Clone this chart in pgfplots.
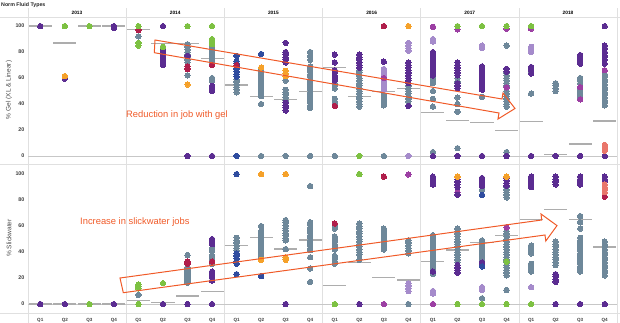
\documentclass[border=0pt]{standalone}
\usepackage{pgfplots}
\pgfplotsset{compat=1.18}
\usepackage{fontspec}
\setmainfont{Liberation Sans}
\definecolor{cP}{HTML}{5B2C91}
\definecolor{cG}{HTML}{7DC142}
\definecolor{cO}{HTML}{F5A12A}
\definecolor{cS}{HTML}{6E889A}
\definecolor{cB}{HTML}{2F4C9F}
\definecolor{cC}{HTML}{B01E4B}
\definecolor{cL}{HTML}{A58BCB}
\definecolor{cM}{HTML}{9C3FA3}
\definecolor{cSa}{HTML}{E9766B}
\definecolor{cAn}{HTML}{F05A28}
\pgfplotsset{
  panel/.style={scale only axis, width=589bp, xmin=-0.5, xmax=23.5, ymax=107,
    axis line style={draw=none}, major tick length=0pt, ytick={0,20,40,60,80,100},
    yticklabel style={font=\fontsize{5.4}{6}\selectfont\bfseries, text=black!75},
    /pgf/number format/assume math mode=true, anchor=south west},
  dot/.style={only marks, color=#1, mark=*, mark size=2.7bp, mark options={solid, draw=#1, fill=#1, line width=0pt}},
  med/.style={draw=none, mark=none, error bars/.cd, x dir=both, x fixed=0.47, error mark=none,
    error bar style={draw=black!32, line width=1.3bp}},
  zl/.style={black!22, line width=0.9bp, mark=none}
}
\begin{document}
\begin{tikzpicture}
\path[use as bounding box] (0,0) rectangle (620bp,-323bp);
\foreach \k in {0,...,6} {\draw[black!12, line width=0.8bp] (28bp+98.2bp*\k,-8bp) -- (28bp+98.2bp*\k,-323bp);}
\draw[black!12, line width=0.8bp] (0,-17bp) -- (620bp,-17bp);
\draw[black!12, line width=0.8bp] (0,-164.5bp) -- (620bp,-164.5bp);
\draw[black!12, line width=0.8bp] (0,-313bp) -- (620bp,-313bp);
\node[anchor=west, font=\fontsize{5.3}{6}\selectfont\bfseries, text=black!85, inner sep=0] at (1bp,-5.5bp) {Norm Fluid Types};
\foreach \y [count=\k from 0] in {2013,2014,2015,2016,2017,2018} {
  \node[font=\fontsize{4.8}{5}\selectfont\bfseries, inner sep=0] at (77bp+98.2bp*\k,-13bp) {\y};}
\node[rotate=90, font=\fontsize{6.6}{7}\selectfont, text=black!70, inner sep=0] at (9bp,-90bp) {\% Gel (XL \& Linear)};
\node[rotate=90, font=\fontsize{6.6}{7}\selectfont, text=black!70, inner sep=0] at (9bp,-238bp) {\% Slickwater};

% ---------------- top panel ----------------
\begin{axis}[panel, at={(28bp,-164bp)}, height=147bp, ymin=-6.2, xtick=\empty]
\addplot[zl] coordinates {(-0.5,0) (23.5,0)};
\addplot[med] coordinates {(0,100) (1,87) (2,100) (3,100) (4,97.5) (5,86.7) (6,86.7) (7,75) (8,54.6) (9,45.6) (10,43.6) (11,49.5) (12,68) (13,45.6) (14,49.5) (15,52) (16,33.3) (17,27.2) (18,25.6) (19,19.5) (20,26.4) (21,1.3) (22,9.2) (23,26.9)};
% slate
\addplot[dot=cS] coordinates {(4,92) (5,80) (5,77)
(6,86) (6,84) (6,82) (6,80) (6,78) (6,76) (6,74) (6,72) (6,62)
(7,84) (7,82) (7,80) (7,78) (7,76) (7,74) (7,72) (7,60) (7,58)
(8,59) (8,57) (8,55) (8,53) (8,51) (8,49)
(9,66) (9,64) (9,62) (9,60) (9,58) (9,56) (9,54) (9,52) (9,50) (9,48) (9,46) (9,40) (9,0)
(10,58) (10,51) (10,49) (10,47) (10,45) (10,43) (10,0)
(11,80) (11,77) (11,74) (11,69) (11,67) (11,65) (11,63) (11,61) (11,59) (11,57) (11,55) (11,53) (11,51) (11,49) (11,47) (11,45) (11,43) (11,41) (11,39) (11,37) (11,0)
(12,56) (12,54) (12,52) (12,44) (12,42) (12,40) (12,0)
(13,66) (13,64) (13,62) (13,60) (13,58) (13,56) (13,54) (13,52) (13,50) (13,48) (13,46) (13,44) (13,42) (13,40) (13,38)
(14,47) (14,45) (14,43) (14,41) (14,39) (14,0)
(15,54) (15,52) (15,50) (15,48) (15,46) (15,44) (15,42)
(16,60) (16,58) (16,56) (16,50) (16,44) (16,38) (16,3)
(17,60) (17,57) (17,45) (17,40) (17,34) (17,6)
(18,45.6)
(19,85) (19,64) (19,62) (19,60) (19,58) (19,56) (19,54) (19,50) (19,48) (19,46) (19,44) (19,42) (19,40) (19,38) (19,3)
(20,65.6) (20,48)
(21,56) (21,54) (21,52) (21,50)
(22,60) (22,58) (22,56) (22,52) (22,50) (22,48) (22,46) (22,44)
(23,63) (23,61) (23,59) (23,57) (23,55) (23,53) (23,51) (23,49) (23,47) (23,45) (23,43) (23,41) (23,39)};
% light purple
\addplot[dot=cL] coordinates {(14,67) (14,65) (14,63) (14,61) (14,59) (14,57) (14,55) (14,53) (14,51)
(15,87) (15,85) (15,83) (15,81) (15,0) (16,90) (16,88) (18,85) (18,83) (20,84) (20,82) (20,80)};
% magenta
\addplot[dot=cM] coordinates {(14,60) (16,99.5) (17,97.5) (19,98) (19,52.8) (20,98) (22,53) (22,43.6) (23,66)};
% purple
\addplot[dot=cP] coordinates {(0,100) (1,59.5) (3,100) (3,98.5)
(5,100) (5,84) (5,82) (5,79) (5,76) (5,74) (5,72) (5,70) (6,77) (6,0) (7,54) (7,52) (7,50) (7,0)
(10,87) (10,80) (10,78) (10,76) (10,74) (10,72) (10,41) (10,39) (10,37) (10,35)
(12,78) (12,72) (12,66) (12,64) (12,62) (12,60) (12,58)
(13,78) (13,76) (13,74) (13,72) (13,70) (13,68)
(14,72.6)
(15,72) (15,70) (15,68) (15,66) (15,64) (15,62) (15,60) (15,58) (15,56) (15,38.5)
(16,80) (16,78) (16,76) (16,74) (16,72) (16,70) (16,68) (16,66) (16,64) (16,62) (16,0)
(17,72) (17,70) (17,68) (17,66) (17,64) (17,62) (17,56) (17,54) (17,52) (17,0)
(18,69) (18,67) (18,65) (18,63) (18,61) (18,59) (18,57) (18,55) (18,53) (18,51) (18,0)
(19,67) (19,65) (19,0) (20,68.5) (20,66) (20,63.5) (20,0) (21,0)
(22,77.7) (22,75.5) (22,73) (22,71) (22,0)
(23,100) (23,85) (23,83) (23,80) (23,77) (23,74) (23,71) (23,0)};
% blue
\addplot[dot=cB] coordinates {(8,77) (8,73) (8,71) (8,69) (8,67) (8,65) (8,63) (8,61) (8,0) (9,78.5)};
% crimson
\addplot[dot=cC] coordinates {(4,97) (6,69) (6,67) (7,70) (8,70) (12,38.5) (14,100)};
% orange
\addplot[dot=cO] coordinates {(1,61.5) (6,55) (9,68) (10,65.5) (10,63.5) (10,61.5) (15,100)};
% salmon
\addplot[dot=cSa] coordinates {(23,8.5) (23,7) (23,5.5) (23,4)};
% green
\addplot[dot=cG] coordinates {(1,100) (2,100) (4,100) (4,87) (4,85) (5,84) (6,100) (7,100) (7,90) (7,88) (7,86) (13,0) (17,100) (18,100) (19,100) (20,100)};
\end{axis}

% ---------------- bottom panel ----------------
\begin{axis}[panel, at={(28bp,-313bp)}, height=148bp, ymin=-6.9,
  xtick={0,...,23}, xticklabels={Q1,Q2,Q3,Q4,Q1,Q2,Q3,Q4,Q1,Q2,Q3,Q4,Q1,Q2,Q3,Q4,Q1,Q2,Q3,Q4,Q1,Q2,Q3,Q4},
  xticklabel style={font=\fontsize{4.6}{5}\selectfont\bfseries, text=black!75, yshift=-1.5bp}]
\addplot[zl] coordinates {(-0.5,0) (23.5,0)};
\addplot[med] coordinates {(0,0) (1,0) (2,0) (3,0) (4,2.6) (5,1) (6,6.2) (7,9.5) (8,45) (9,51) (10,42.3) (11,49.2) (12,14.1) (13,31.8) (14,20.5) (15,18.5) (16,32.6) (17,41.5) (18,47.2) (19,53) (20,65) (21,73) (22,65) (23,44)};
% slate
\addplot[dot=cS] coordinates {(4,7)
(6,37.7) (6,28.5) (6,27) (6,25.5) (6,24) (6,22.5) (6,21) (6,19.5) (6,18) (6,16.5)
(7,43) (7,41) (7,37.5) (7,36) (7,34) (7,31) (7,21)
(8,51) (8,49) (8,47) (8,45) (8,43) (8,41)
(9,60) (9,56) (9,54) (9,52) (9,50) (9,48) (9,46) (9,44) (9,42) (9,40) (9,38) (9,36)
(10,64.6) (10,62.5) (10,60.5) (10,58.5) (10,56.5) (10,54.5) (10,52.5) (10,50.5) (10,49) (10,42.3)
(11,90.8) (11,63) (11,61) (11,59) (11,57) (11,55) (11,53) (11,51) (11,49) (11,47) (11,45) (11,43) (11,41.5) (11,36) (11,27.4) (11,17)
(12,60) (12,58) (12,52) (12,50) (12,48) (12,46) (12,44) (12,42) (12,37) (12,35) (12,33) (12,31)
(13,62) (13,60) (13,58) (13,56) (13,54) (13,52) (13,50) (13,48) (13,46) (13,44) (13,42) (13,40) (13,38) (13,34)
(14,58) (14,56) (14,54) (14,52) (14,50) (14,48) (14,46) (14,44) (14,42)
(15,49) (15,47) (15,45) (15,43) (15,41) (15,39) (15,0)
(16,53) (16,51) (16,49) (16,47) (16,45) (16,43) (16,41) (16,39) (16,37) (16,35) (16,33) (16,31) (16,29) (16,27) (16,25) (16,23)
(17,58) (17,56) (17,54) (17,52) (17,50) (17,48) (17,46) (17,44) (17,42) (17,40) (17,38) (17,36) (17,34) (17,32)
(18,88) (18,49) (18,47) (18,45) (18,43) (18,41) (18,39) (18,37) (18,35) (18,33) (18,31) (18,4.4)
(19,90) (19,88) (19,86) (19,84) (19,82) (19,56) (19,54) (19,52) (19,50) (19,48) (19,46) (19,44) (19,42) (19,40) (19,38) (19,36) (19,34) (19,32) (19,30) (19,28) (19,26) (19,24) (19,22) (19,10.8)
(20,45) (20,43) (20,41) (20,39) (20,31) (20,29) (20,27) (20,25)
(21,48) (21,46) (21,44) (21,42) (21,40) (21,38) (21,36) (21,34) (21,32) (21,30)
(22,67.7) (22,63) (22,58) (22,51) (22,49) (22,47) (22,45) (22,43) (22,41) (22,39) (22,37) (22,35) (22,33) (22,31) (22,29) (22,27) (22,25)
(23,48) (23,46) (23,44) (23,42) (23,40) (23,38) (23,36) (23,34) (23,32) (23,30) (23,28) (23,26) (23,24) (23,22)};
% light purple
\addplot[dot=cL] coordinates {(15,16) (15,14) (15,12) (15,10) (16,10) (16,8) (18,13) (18,11) (20,13)};
% magenta
\addplot[dot=cM] coordinates {(14,0) (15,99.7) (16,0) (17,86) (19,59)};
% purple
\addplot[dot=cP] coordinates {(0,0) (1,0) (3,0) (5,0) (6,0) (7,0) (10,0) (13,0) (21,0) (22,0) (23,0)
(7,50) (7,48) (7,46) (7,25) (7,23) (7,21) (7,18)
(16,98) (16,96) (16,94) (16,92) (16,25)
(17,96) (17,94) (17,92) (17,90) (17,84) (17,30) (17,28) (17,26) (17,24)
(18,97) (18,95) (18,93) (18,91) (18,32)
(19,97) (19,95) (19,93) (19,91)
(20,98) (20,96) (20,94) (20,92) (20,90)
(21,98) (21,96) (21,94) (21,92) (21,23) (21,21) (21,19) (21,17)
(22,98) (22,96) (22,94) (22,92)
(23,98) (23,96) (23,94)};
% blue
\addplot[dot=cB] coordinates {(8,100) (8,39) (8,37) (8,35) (8,33) (8,31) (8,23) (9,21.5) (18,84) (18,29)};
% crimson
\addplot[dot=cC] coordinates {(6,32.6) (6,31) (7,32.6) (12,62) (14,98) (23,82.6)};
% orange
\addplot[dot=cO] coordinates {(9,100) (9,34) (10,100) (10,36) (10,34) (17,98) (19,98)};
% salmon
\addplot[dot=cSa] coordinates {(23,92) (23,90) (23,88) (23,86)};
% green
\addplot[dot=cG] coordinates {(2,0) (4,15) (4,13.5) (4,12) (4,0) (5,16) (12,0) (13,100) (17,0) (18,0) (19,32.6) (19,0) (20,0)};
\end{axis}

% annotations
\draw[cAn, line width=1bp, line join=miter] (155bp,-40bp) -- (502bp,-99bp) -- (503bp,-93bp) -- (515bp,-108.5bp) -- (498bp,-119bp) -- (499bp,-113bp) -- (154.3bp,-52.7bp) -- cycle;
\draw[cAn, line width=1bp, line join=miter] (120bp,-278bp) -- (541.7bp,-220bp) -- (541bp,-214bp) -- (557bp,-225.6bp) -- (545.8bp,-241bp) -- (545bp,-235bp) -- (123.3bp,-292.7bp) -- cycle;
\node[anchor=west, text=cAn, font=\fontsize{9.4}{10}\selectfont, inner sep=0] at (126bp,-115bp) {Reduction in job with gel};
\node[anchor=west, text=cAn, font=\fontsize{9.4}{10}\selectfont, inner sep=0] at (80bp,-222bp) {Increase in slickwater jobs};
\end{tikzpicture}
\end{document}
